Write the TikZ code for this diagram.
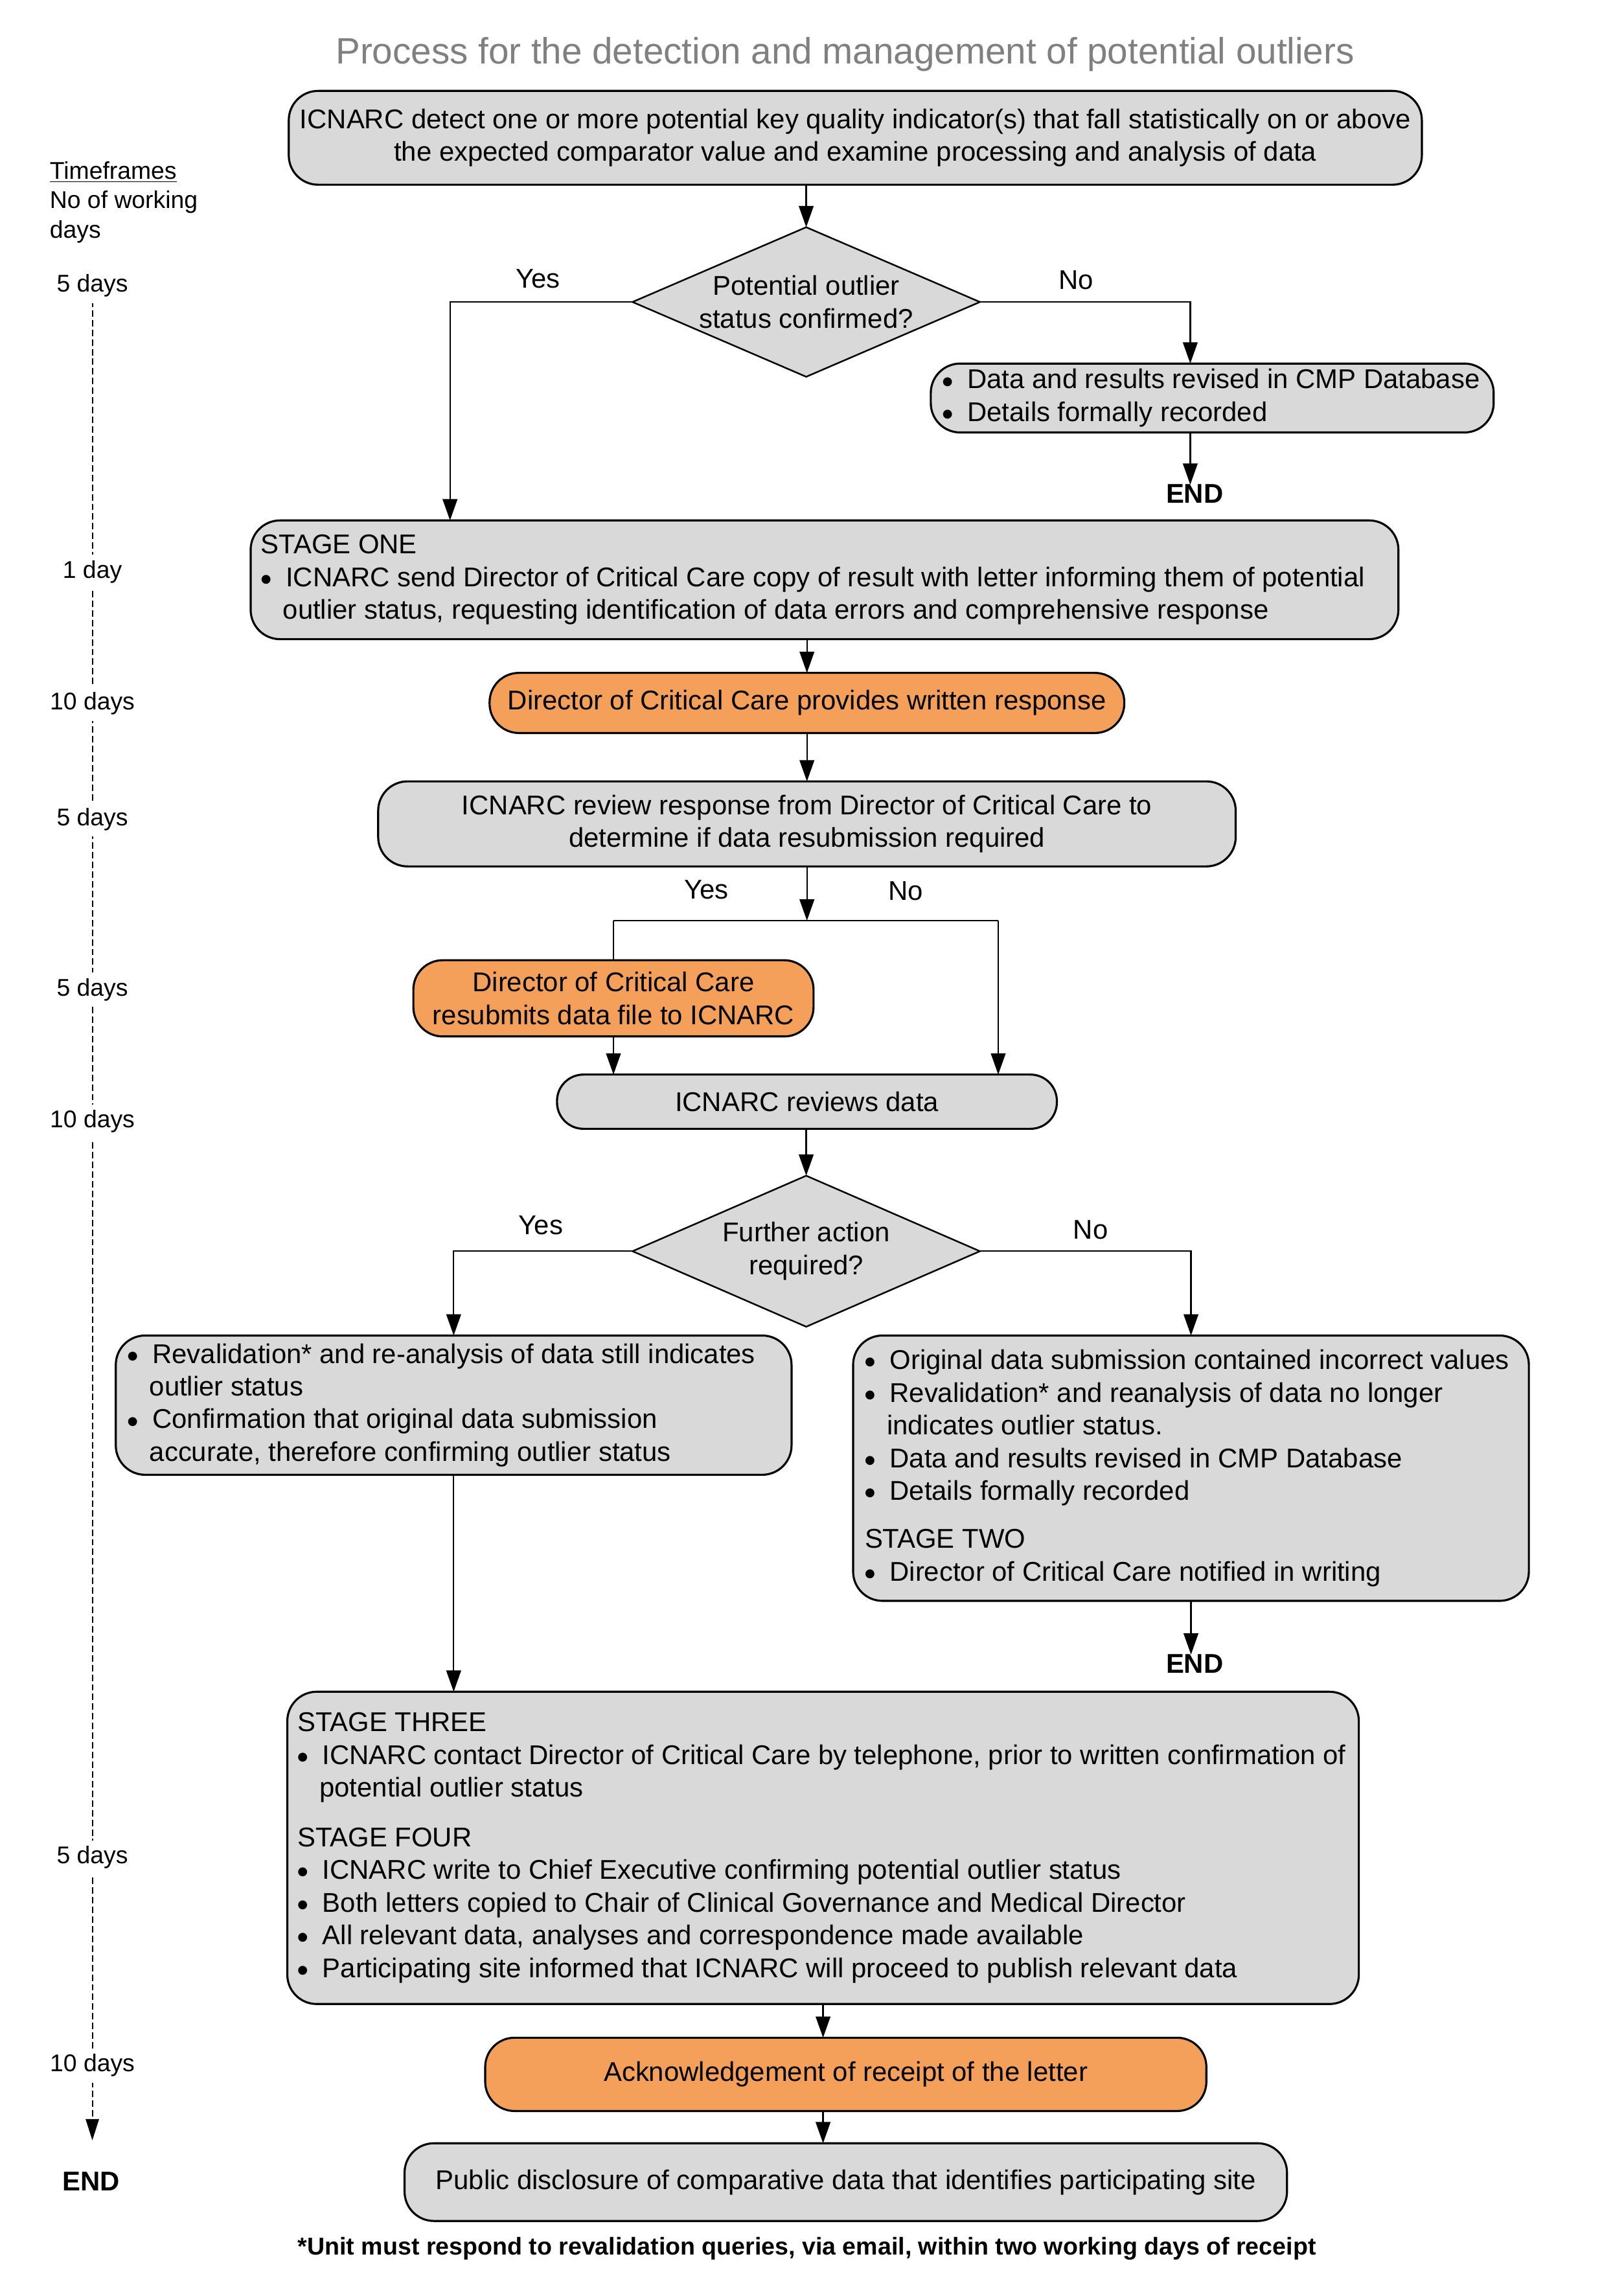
\documentclass[tikz,border=0pt]{standalone}
\usepackage{fontspec}
\setmainfont{Liberation Sans}
\newfontfamily\dejavu{DejaVu Sans}
\usetikzlibrary{arrows.meta,shapes.geometric}
\definecolor{boxgray}{HTML}{D9D9D9}
\definecolor{orangefill}{HTML}{F5A05A}
\definecolor{titlegray}{HTML}{808080}
\newcommand\bul{\makebox[17pt][l]{\raisebox{2.6pt}{\dejavu\fontsize{8}{8}\selectfont ●}}}
\newcommand\ind{\hspace*{15pt}}
\begin{document}
\begin{tikzpicture}[x=1pt,y=-1pt,
  every node/.style={inner sep=0pt, outer sep=0pt},
  main/.style={font=\fontsize{18.5}{22.3}\selectfont},
  box/.style={main, draw, line width=1.4pt, rounded corners=20pt, fill=boxgray, align=center},
  obox/.style={box, fill=orangefill},
  dbox/.style={draw, line width=1.1pt, diamond, fill=boxgray},
  arr/.style={line width=1pt, -{Triangle[length=14.5pt,width=10pt]}},
  conn/.style={line width=1pt},
  tf/.style={font=\fontsize{16.5}{20}\selectfont, fill=white, inner xsep=2pt, inner ysep=4pt},
  endlbl/.style={font=\fontsize{18.5}{22}\selectfont\bfseries},
  lbl/.style={main}
]
\useasboundingbox[fill=white] (0,0) rectangle (1100,1566.2);

% title
\node[font=\fontsize{25}{30}\selectfont, text=titlegray] (title) at (576.5,37) {Process for the detection and management of potential outliers};

% timeline
\coordinate (tl0) at (63,205);
\coordinate (tl1) at (63,1460);
\draw[line width=0.9pt, dash pattern=on 4.4pt off 2.2pt, -{Triangle[length=14.5pt,width=9pt]}] (tl0) -- (tl1);
\node[font=\fontsize{16.5}{20}\selectfont, align=left, anchor=west] (tfhead) at (34,138) {\underline{Timeframes}\\No of working\\days};
\node[tf] (t1) at (63,195) {5 days};
\node[tf] (t2) at (63,390) {1 day};
\node[tf] (t3) at (63,480) {10 days};
\node[tf] (t4) at (63,559) {5 days};
\node[tf] (t5) at (63,675) {5 days};
\node[tf] (t6) at (63,765) {10 days};
\node[tf] (t7) at (63,1267) {5 days};
\node[tf] (t8) at (63,1409) {10 days};
\node[endlbl] (tend) at (62,1488) {END};

% nodes
\node[box, minimum width=773, minimum height=64] (b1) at (583.5,94) {ICNARC detect one or more potential key quality indicator(s) that fall statistically on or above\\the expected comparator value and examine processing and analysis of data};

\node[dbox, minimum width=237, minimum height=102] (d1) at (550,206) {};
\node[main, align=center] (d1t) at (d1.center) {Potential outlier\\status confirmed?};

\node[box, minimum width=384, minimum height=47] (n2) at (827,271.5) {};
\node[main, align=left, anchor=west] (n2t) at ([xshift=8pt]n2.west) {\bul Data and results revised in CMP Database\\\bul Details formally recorded};
\node[endlbl] (end1) at (815,337) {END};

\node[box, minimum width=783, minimum height=81] (s1) at (562.5,395.5) {};
\node[main, align=left, anchor=west] (s1t) at ([xshift=7pt]s1.west) {STAGE ONE\\\bul ICNARC send Director of Critical Care copy of result with letter informing them of potential\\\ind outlier status, requesting identification of data errors and comprehensive response};

\node[obox, minimum width=433, minimum height=41] (o1) at (550.5,479.5) {Director of Critical Care provides written response};

\node[box, minimum width=585, minimum height=58] (r1) at (550.5,562) {ICNARC review response from Director of Critical Care to\\determine if data resubmission required};

\node[obox, minimum width=273, minimum height=52] (o2) at (418.5,681) {Director of Critical Care\\resubmits data file to ICNARC};

\node[box, rounded corners=18pt, minimum width=341, minimum height=37] (r2) at (550.5,751.5) {ICNARC reviews data};

\node[dbox, minimum width=237, minimum height=103] (d2) at (550,853.5) {};
\node[main, align=center] (d2t) at (d2.center) {Further action\\required?};

\node[box, minimum width=461, minimum height=95] (bl) at (309.5,958.5) {};
\node[main, align=left, anchor=west] (blt) at ([xshift=8pt]bl.west) {\bul Revalidation* and re-analysis of data still indicates\\\ind outlier status\\\bul Confirmation that original data submission\\\ind accurate, therefore confirming outlier status};

\node[box, minimum width=461, minimum height=181] (br) at (812.5,1001.5) {};
\node[main, align=left, anchor=west] (brt) at ([xshift=8pt]br.west) {\bul Original data submission contained incorrect values\\\bul Revalidation* and reanalysis of data no longer\\\ind indicates outlier status.\\\bul Data and results revised in CMP Database\\\bul Details formally recorded\\[10.5pt]STAGE TWO\\\bul Director of Critical Care notified in writing};
\node[endlbl] (end2) at (815,1135) {END};

\node[box, minimum width=731, minimum height=213] (s3) at (561.5,1260.5) {};
\node[main, align=left, anchor=west] (s3t) at ([xshift=7pt]s3.west) {STAGE THREE\\\bul ICNARC contact Director of Critical Care by telephone, prior to written confirmation of\\\ind potential outlier status\\[11.5pt]STAGE FOUR\\\bul ICNARC write to Chief Executive confirming potential outlier status\\\bul Both letters copied to Chair of Clinical Governance and Medical Director\\\bul All relevant data, analyses and correspondence made available\\\bul Participating site informed that ICNARC will proceed to publish relevant data};

\node[obox, minimum width=492, minimum height=50] (o3) at (577,1415) {Acknowledgement of receipt of the letter};

\node[box, minimum width=602, minimum height=53] (pf) at (577,1488.5) {Public disclosure of comparative data that identifies participating site};

\node[font=\fontsize{16.6}{20}\selectfont\bfseries] (foot) at (550.5,1534) {*Unit must respond to revalidation queries, via email, within two working days of receipt};

% labels
\node[lbl] (y1) at (367,190) {Yes};
\node[lbl] (no1) at (734,191) {No};
\node[lbl] (y2) at (482,607) {Yes};
\node[lbl] (no2) at (618,608) {No};
\node[lbl] (y3) at (369,836) {Yes};
\node[lbl] (no3) at (744,839) {No};

% helper coordinates
\coordinate (xA) at (307,0);
\coordinate (xB) at (812,0);
\coordinate (jl) at (418.5,628);
\coordinate (jr) at (681,628);

% connectors
\draw[arr] (d1.north |- b1.south) -- (d1.north);
\draw[arr] (d1.west) -| (s1.north -| xA);
\draw[arr] (d1.east) -| (n2.north -| xB);
\draw[arr] (n2.south -| xB) -- (end1.north -| xB);
\draw[arr] (o1.north |- s1.south) -- (o1.north);
\draw[arr] (o1.south) -- (r1.north);
\draw[arr] (r1.south) -- (r1.south |- jl);
\draw[conn] (jl) -- (jr);
\draw[conn] (jl) -- (o2.north);
\draw[arr] (jr) -- (jr |- r2.north);
\draw[arr] (o2.south) -- (o2.south |- r2.north);
\draw[arr] (d2.north |- r2.south) -- (d2.north);
\draw[arr] (d2.west) -| (bl.north);
\draw[arr] (d2.east) -| (br.north);
\draw[arr] (bl.south) -- (bl.south |- s3.north);
\draw[arr] (br.south) -- (br.south |- end2.north);
\draw[arr] (s3.south) -- (s3.south |- o3.north);
\draw[arr] (s3.south |- o3.south) -- (s3.south |- pf.north);
\end{tikzpicture}
\end{document}
